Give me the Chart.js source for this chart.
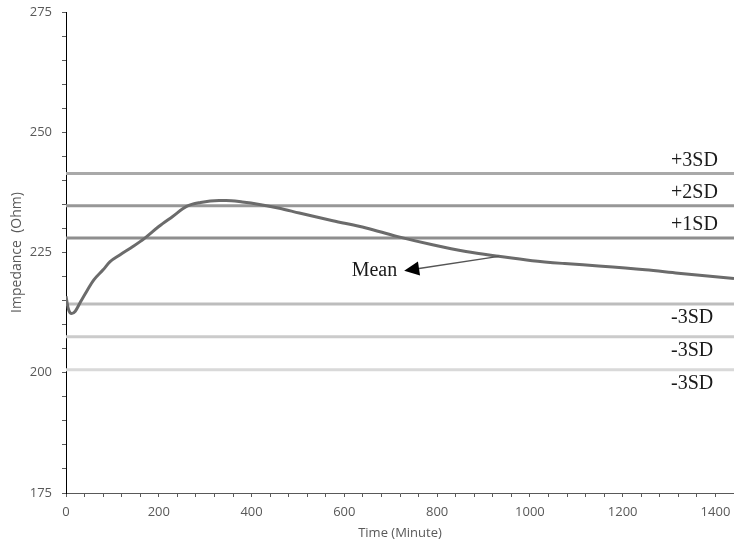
<!DOCTYPE html>
<html>
<head>
<meta charset="utf-8">
<style>
  html, body { margin: 0; padding: 0; background: #ffffff; }
  #wrap { width: 734px; height: 545px; }
</style>
<script src="https://cdn.jsdelivr.net/npm/chart.js@4.4.1/dist/chart.umd.min.js"></script>
</head>
<body>
<div id="wrap"><canvas id="chart" width="734" height="545"></canvas></div>
<script>
// Impedance recording over one day (minutes)
const timeMinutes = [0, 5, 12, 20, 30, 45, 60, 80, 95, 116, 145, 170, 200, 230, 260, 290, 330, 345, 380, 417, 460, 503, 575, 647, 711, 790, 862, 933, 1005, 1075, 1148, 1249, 1320, 1440];
const impedanceOhm = [215.9, 213.3, 212.3, 212.8, 214.5, 217.0, 219.3, 221.4, 223.1, 224.5, 226.3, 228.0, 230.4, 232.5, 234.6, 235.4, 235.8, 235.8, 235.5, 235.0, 234.2, 233.2, 231.6, 230.1, 228.4, 226.6, 225.2, 224.2, 223.3, 222.7, 222.2, 221.4, 220.7, 219.6];

// Control limits
const sdLevels = [241.4, 234.7, 228.0, 214.3, 207.5, 200.6];
const sdLabels = ['+3SD', '+2SD', '+1SD', '-3SD', '-3SD', '-3SD'];
const sdColors = ['#a9a9a9', '#979797', '#8e8e8e', '#bdbdbd', '#cbcbcb', '#d9d9d9'];

// Axis ticks
const xTickLabels = [0, 200, 400, 600, 800, 1000, 1200, 1400];
const yTickLabels = [175, 200, 225, 250, 275];

// "Mean" arrow: from a point on the curve to the label
const meanArrowFrom = { x: 933, y: 224.2 };
const meanArrowTo = { x: 729, y: 221.2 };

const AXIS_GREY = '#595959';
const SANS = "'Open Sans', 'Liberation Sans', sans-serif";
const SERIF = "'Liberation Serif', 'DejaVu Serif', serif";

const curvePoints = timeMinutes.map((t, i) => ({ x: t, y: impedanceOhm[i] }));

const sdDatasets = sdLevels.map((lvl, i) => ({
  label: sdLabels[i],
  data: [{ x: 0, y: lvl }, { x: 1440, y: lvl }],
  borderColor: sdColors[i],
  borderWidth: 3,
  pointRadius: 0,
  fill: false,
  order: 2
}));

const annotations = {
  id: 'annotations',
  afterDatasetsDraw(chart) {
    const { ctx, chartArea, scales } = chart;
    const xs = scales.x, ys = scales.y;
    ctx.save();
    // level labels
    ctx.font = '20px ' + SERIF;
    ctx.fillStyle = '#1a1a1a';
    ctx.textAlign = 'left';
    ctx.textBaseline = 'middle';
    const lx = chartArea.right - 63;
    sdLevels.forEach((lvl, i) => {
      const y = ys.getPixelForValue(lvl);
      const off = sdLabels[i].startsWith('+') ? -13 : 14;
      ctx.fillText(sdLabels[i], lx, y + off);
    });

    // arrow pointing to the "Mean" label
    const x1 = xs.getPixelForValue(meanArrowFrom.x), y1 = ys.getPixelForValue(meanArrowFrom.y);
    const x2 = xs.getPixelForValue(meanArrowTo.x), y2 = ys.getPixelForValue(meanArrowTo.y);
    const ang = Math.atan2(y2 - y1, x2 - x1);
    const headLen = 15, headW = 7;
    const bx = x2 - headLen * Math.cos(ang), by = y2 - headLen * Math.sin(ang);
    ctx.strokeStyle = '#555555';
    ctx.lineWidth = 1.3;
    ctx.beginPath();
    ctx.moveTo(x1, y1);
    ctx.lineTo(bx, by);
    ctx.stroke();
    ctx.fillStyle = '#000000';
    ctx.beginPath();
    ctx.moveTo(x2, y2);
    ctx.lineTo(bx + headW * Math.sin(ang), by - headW * Math.cos(ang));
    ctx.lineTo(bx - headW * Math.sin(ang), by + headW * Math.cos(ang));
    ctx.closePath();
    ctx.fill();

    ctx.fillStyle = '#1a1a1a';
    ctx.textAlign = 'right';
    ctx.fillText('Mean', x2 - 7, y2);
    ctx.restore();
  }
};

new Chart(document.getElementById('chart'), {
  type: 'line',
  data: {
    datasets: [
      {
        label: 'Impedance',
        data: curvePoints,
        borderColor: '#6b6b6b',
        borderWidth: 3,
        pointRadius: 0,
        fill: false,
        cubicInterpolationMode: 'monotone',
        order: 1
      },
      ...sdDatasets
    ]
  },
  options: {
    responsive: false,
    animation: false,
    events: [],
    layout: { padding: { top: 12, right: 0, left: 0, bottom: 0 } },
    plugins: { legend: { display: false }, tooltip: { enabled: false } },
    scales: {
      x: {
        type: 'linear',
        min: 0,
        max: 1440,
        border: { color: AXIS_GREY, width: 1 },
        grid: { drawOnChartArea: false, tickLength: 4, color: AXIS_GREY },
        ticks: {
          stepSize: 40,
          autoSkip: false,
          maxRotation: 0,
          padding: 7,
          color: AXIS_GREY,
          font: { family: SANS, size: 13 },
          callback: v => xTickLabels.includes(v) ? String(v) : ''
        },
        title: {
          display: true,
          text: 'Time (Minute)',
          color: AXIS_GREY,
          font: { family: SANS, size: 13 },
          padding: { top: 0, bottom: 4 }
        },
        afterFit: s => { s.height = 52; s.paddingLeft = 0; s.paddingRight = 0; }
      },
      y: {
        min: 175,
        max: 275,
        border: { color: '#000000', width: 1 },
        grid: { drawOnChartArea: false, tickLength: 4, color: AXIS_GREY },
        ticks: {
          stepSize: 5,
          autoSkip: false,
          padding: 10,
          color: AXIS_GREY,
          font: { family: SANS, size: 13 },
          callback: v => yTickLabels.includes(v) ? String(v) : ''
        },
        title: {
          display: true,
          text: 'Impedance  (Ohm)',
          color: AXIS_GREY,
          font: { family: SANS, size: 14 },
          padding: { top: 9, bottom: 0 }
        },
        afterFit: s => { s.width = 66; s.paddingTop = 0; s.paddingBottom = 0; }
      }
    }
  },
  plugins: [annotations]
});
</script>
</body>
</html>
